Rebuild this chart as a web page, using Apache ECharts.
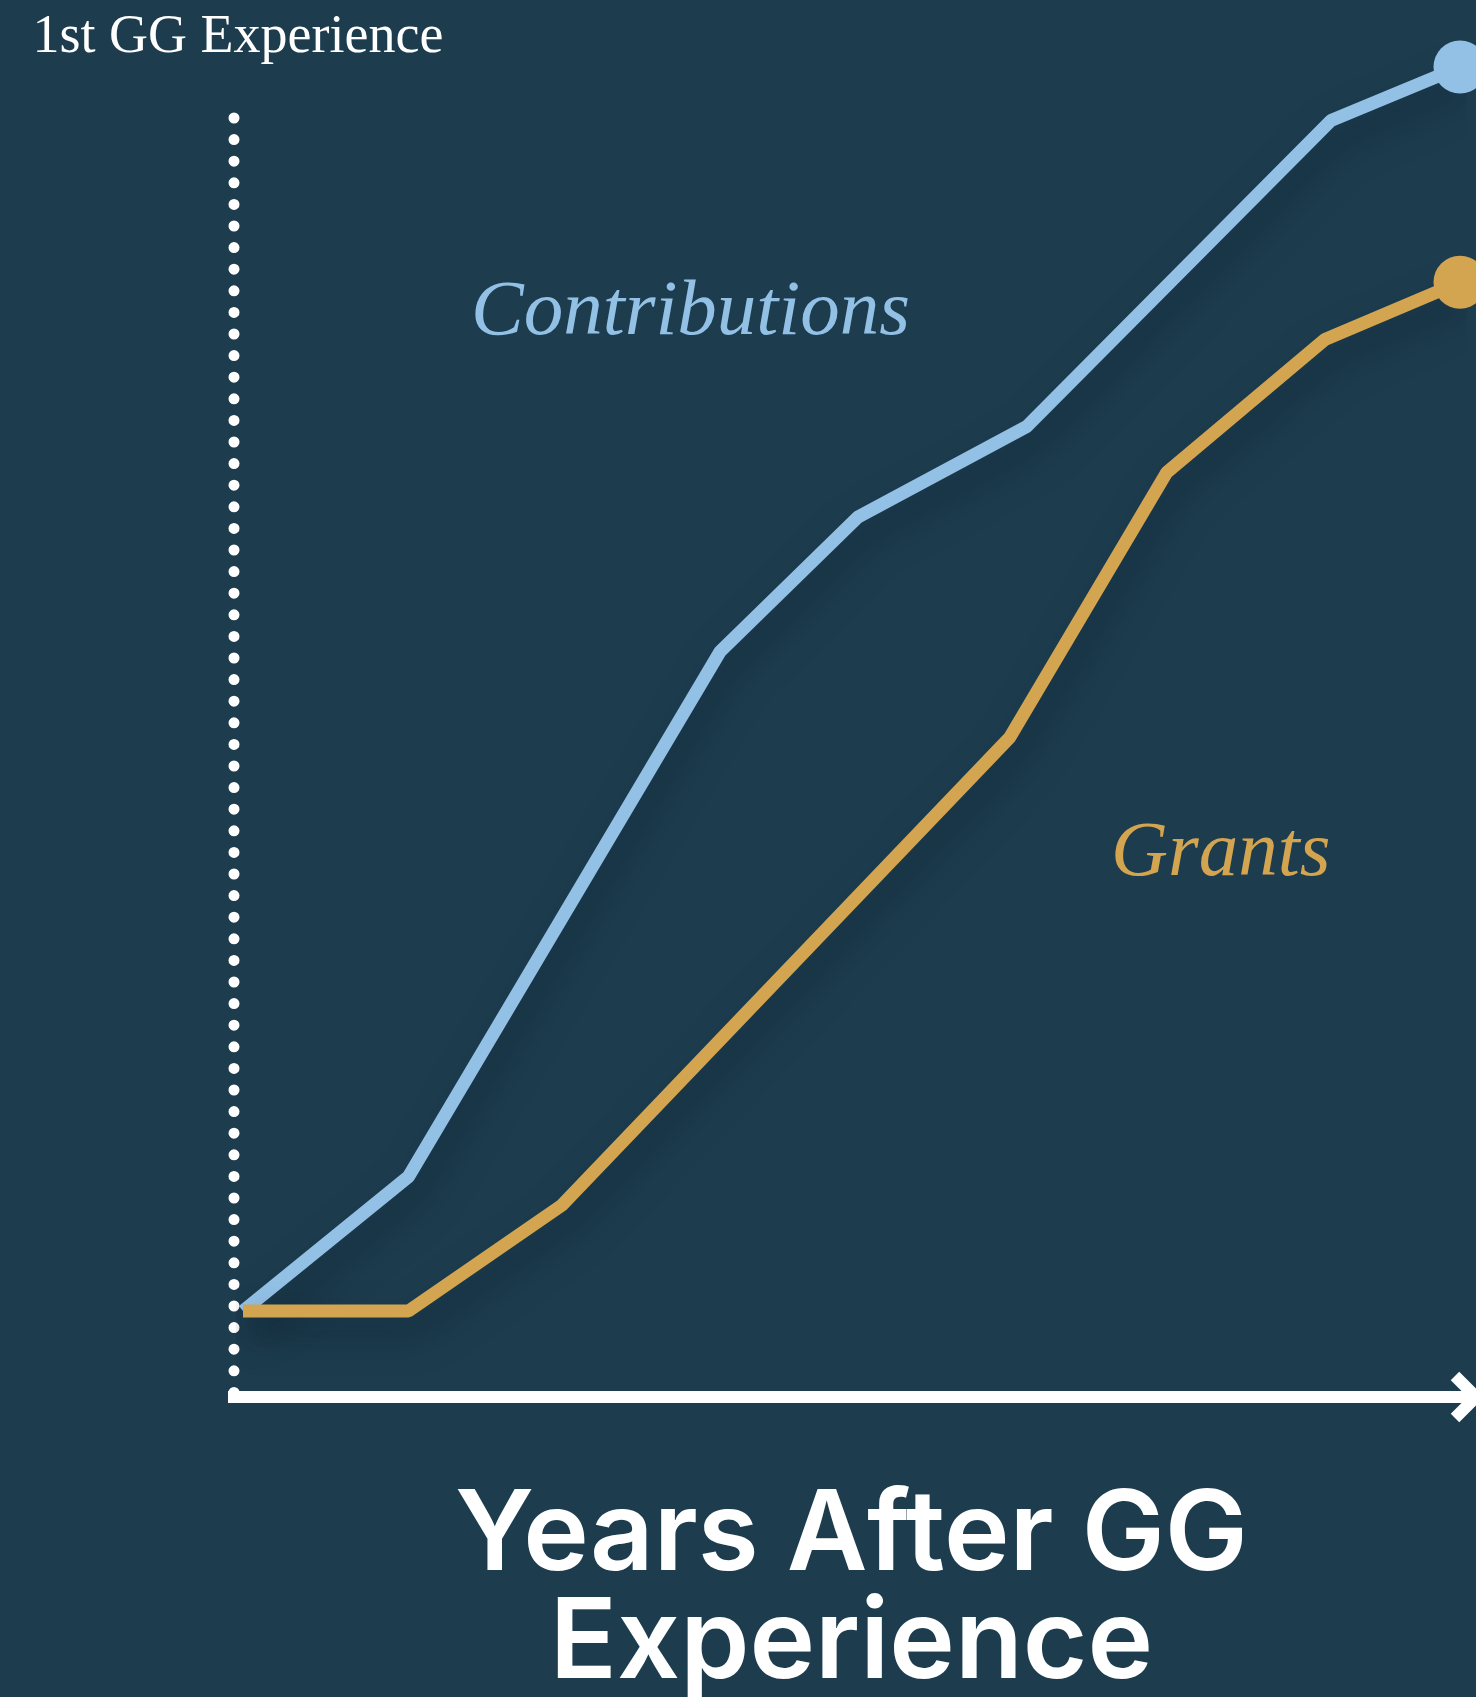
<!DOCTYPE html>
<html>
<head>
<meta charset="utf-8">
<script src="https://cdn.jsdelivr.net/npm/echarts@6/dist/echarts.min.js"></script>
<style>
  html, body { margin: 0; padding: 0; background: #1d3d4f; }
  #chart { width: 1476px; height: 1697px; }
</style>
</head>
<body>
<div id="chart"></div>
<script>
// data (x: years, y: relative level 0-100)
const contribYears = [0, 1.36, 3.92, 5.05, 6.44, 8.94, 10]
const contribValues = [0, 10.8, 53.0, 63.8, 71.1, 95.7, 100]
const grantYears = [0, 1.36, 2.62, 6.30, 7.59, 8.89, 10]
const grantValues = [0, 0, 8.5, 46.1, 67.4, 78.1, 82.7]

const seriesNames = ['Contributions', 'Grants']
const seriesColors = ['#93c1e6', '#d4a550']
const yAxisName = '1st GG Experience'
const xAxisName = 'Years After GG\nExperience'

const bgColor = '#1d3d4f'

// last point gets the round end dot
const toPoints = (xs, ys) =>
  xs.map((x, i) =>
    i === xs.length - 1
      ? { value: [x, ys[i]], symbol: 'circle', symbolSize: 53 }
      : [x, ys[i]]
  )

const chart = echarts.init(document.getElementById('chart'))

const lineSeries = (name, color, points) => ({
  name,
  type: 'line',
  data: points,
  symbol: 'none',
  clip: false,
  silent: true,
  lineStyle: {
    color,
    width: 13,
    cap: 'butt',
    shadowColor: 'rgba(5, 20, 30, 0.5)',
    shadowBlur: 34,
    shadowOffsetX: 8,
    shadowOffsetY: 18,
  },
  itemStyle: { color },
  emphasis: { disabled: true },
})

const labelStyle = color => ({
  color,
  fontFamily: 'Liberation Serif',
  fontStyle: 'italic',
  fontWeight: 'normal',
  fontSize: 79,
})

chart.setOption({
  backgroundColor: bgColor,
  animation: false,
  // keep the plot box fixed, names may sit outside it
  grid: { left: 243, right: 16, top: 67, bottom: 386, containLabel: false, outerBoundsMode: 'none' },
  xAxis: {
    type: 'value',
    min: 0,
    max: 10,
    axisLine: { show: false },
    axisTick: { show: false },
    axisLabel: { show: false },
    splitLine: { show: false },
    name: xAxisName,
    nameLocation: 'middle',
    nameGap: 172,
    nameTextStyle: {
      color: '#ffffff',
      fontFamily: 'Inter',
      fontWeight: 600,
      fontSize: 111,
      lineHeight: 108,
    },
  },
  yAxis: {
    type: 'value',
    min: 0,
    max: 100,
    axisLine: { show: false },
    axisTick: { show: false },
    axisLabel: { show: false },
    splitLine: { show: false },
    name: yAxisName,
    nameLocation: 'end',
    nameGap: 2,
    nameTextStyle: {
      color: '#ffffff',
      fontFamily: 'Liberation Serif',
      fontSize: 54,
      padding: [0, 10, 0, 0],
    },
  },
  title: [
    {
      text: seriesNames[0],
      left: 466,
      top: 269,
      textStyle: labelStyle(seriesColors[0]),
    },
    {
      text: seriesNames[1],
      left: 1106,
      top: 810,
      textStyle: labelStyle(seriesColors[1]),
    },
  ],
  graphic: [
    // dotted vertical guide
    {
      type: 'line',
      silent: true,
      z: 1,
      shape: { x1: 234, y1: 118, x2: 234, y2: 1398 },
      style: { stroke: '#ffffff', lineWidth: 11, lineDash: [0, 21.6], lineCap: 'round' },
    },
    // horizontal axis with open arrow
    {
      type: 'line',
      silent: true,
      z: 2,
      shape: { x1: 228, y1: 1397, x2: 1472, y2: 1397 },
      style: { stroke: '#ffffff', lineWidth: 12 },
    },
    {
      type: 'polyline',
      silent: true,
      z: 2,
      shape: { points: [[1455, 1376], [1476, 1397], [1455, 1418]] },
      style: { stroke: '#ffffff', lineWidth: 12, fill: null, lineJoin: 'miter' },
    },
  ],
  series: [
    lineSeries(seriesNames[0], seriesColors[0], toPoints(contribYears, contribValues)),
    lineSeries(seriesNames[1], seriesColors[1], toPoints(grantYears, grantValues)),
  ],
})
</script>
</body>
</html>
